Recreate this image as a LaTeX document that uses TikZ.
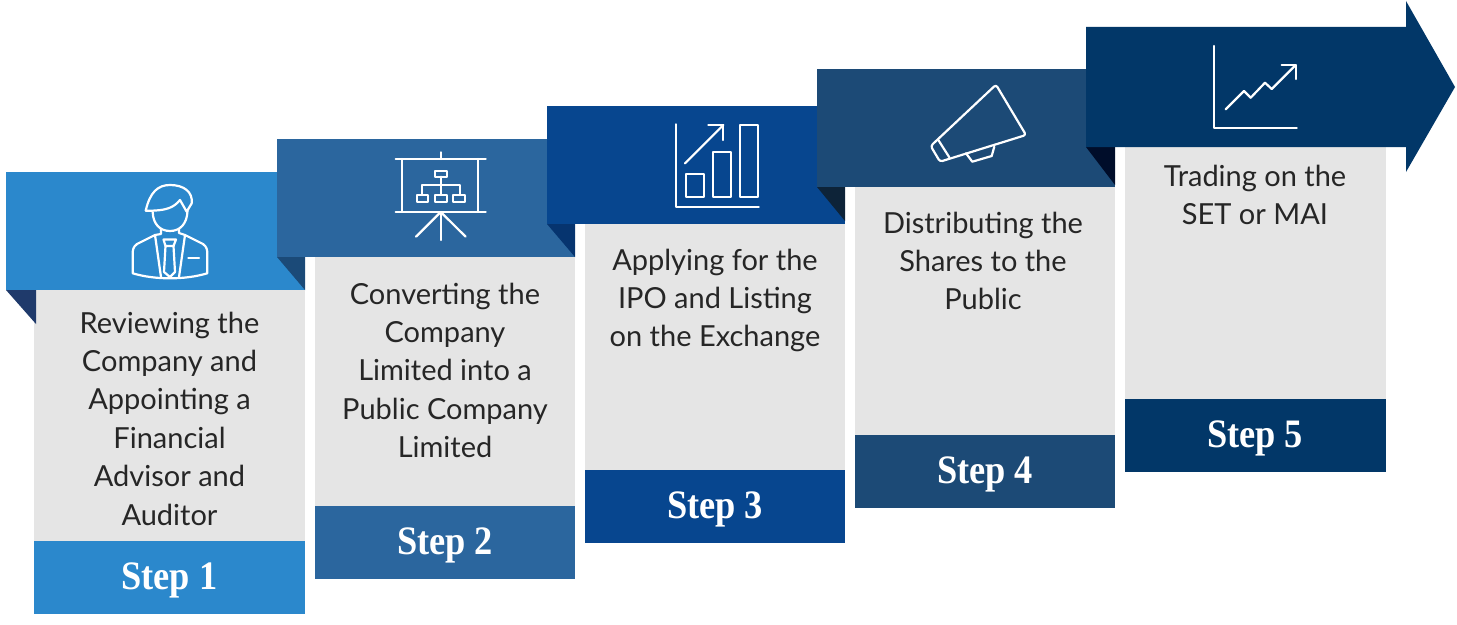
\documentclass[tikz,border=0pt]{standalone}
\usepackage{fontspec}
\usepackage{tikz}
\setmainfont{Lato}
\newfontfamily\stepfont[FakeStretch=0.9]{Liberation Serif}
\definecolor{blueA}{HTML}{2B88CC}
\definecolor{blueB}{HTML}{2B669E}
\definecolor{blueC}{HTML}{07468F}
\definecolor{blueD}{HTML}{1C4A76}
\definecolor{blueE}{HTML}{023768}
\definecolor{foldA}{HTML}{1F3A6B}
\definecolor{foldB}{HTML}{1B4A78}
\definecolor{foldC}{HTML}{06346F}
\definecolor{foldD}{HTML}{0D2338}
\definecolor{foldE}{HTML}{000D2A}
\definecolor{panelgray}{HTML}{E5E5E5}
\definecolor{bodytext}{HTML}{262626}

\begin{document}
\begin{tikzpicture}[x=0.02cm,y=-0.02cm,
	bodylabel/.style={text=bodytext,align=center,anchor=north,font=\fontsize{16.5}{21.85}\selectfont,inner sep=0pt},
	steplabel/.style={text=white,font=\fontsize{23}{26}\stepfont\bfseries,inner sep=0pt},
	icon/.style={draw=white,line width=1.25pt,line cap=round,line join=round}]
	\useasboundingbox (0,0) rectangle (1457,625);
	% panels
	\fill[panelgray] (34,290) rectangle (305,541);
	\fill[panelgray] (315,257) rectangle (575,506);
	\fill[panelgray] (585,224) rectangle (845,470);
	\fill[panelgray] (855,187) rectangle (1115,435);
	\fill[panelgray] (1125,147) rectangle (1386,399);
	% feet
	\fill[blueA] (34,541) rectangle (305,614);
	\fill[blueB] (315,506) rectangle (575,579);
	\fill[blueC] (585,470) rectangle (845,543);
	\fill[blueD] (855,435) rectangle (1115,508);
	\fill[blueE] (1125,399) rectangle (1386,472);
	% banners
	\fill[blueA] (6,172) rectangle (305,290);
	\fill[foldA] (6,290) -- (36,290) -- (36,324) -- cycle;
	\fill[foldB] (277,257) -- (305,257) -- (305,290) -- cycle;
	\fill[blueB] (277,139) rectangle (575,257);
	\fill[foldC] (547,224) -- (575,224) -- (575,257) -- cycle;
	\fill[blueC] (547,106) rectangle (845,224);
	\fill[foldD] (817,187) -- (845,187) -- (845,221) -- cycle;
	\fill[blueD] (817,69) rectangle (1115,187);
	\fill[foldE] (1086,147) -- (1115,147) -- (1115,185) -- cycle;
	\fill[blueE] (1086,27) -- (1406,27) -- (1406,1) -- (1455,87) -- (1406,172) -- (1406,147) -- (1086,147) -- cycle;
	% person
	\draw[icon] (145.7,210.7) .. controls (150,192) and (158,185) .. (170,185) .. controls (184,185) and (193,192) .. (191.7,203.3) -- (186.7,211.7) -- (180,200) .. controls (174,207) and (168,211) .. (145.7,210.7);
	\draw[icon] (152.7,212) .. controls (153,224) and (160,231) .. (170,231) .. controls (180,231) and (187,224) .. (187.5,211);
	\draw[icon] (161,229) -- (161,234) -- (155,235) -- (137,244) .. controls (133,247) and (132.7,250) .. (132.7,254) -- (132.7,273.3) .. controls (155,280) and (185,280) .. (207.3,273.3) -- (207.3,254) .. controls (207.3,250) and (207,247) .. (203,244) -- (185,235) -- (179,233) -- (179,229);
	\draw[icon] (155,235) -- (161,277);
	\draw[icon] (185,235) -- (179,277);
	\draw[icon] (163.5,239.5) -- (176,239.5) -- (173.5,246) -- (165.5,246) -- cycle;
	\draw[icon] (165.5,246) -- (164,272) -- (170,277) -- (175,272) -- (173.5,246);
	\draw[icon] (188.3,257.7) -- (199,257.7);
	% presentation board
	\draw[icon] (395.7,159) -- (485.7,159);
	\draw[icon] (395.7,211.7) -- (485.7,211.7);
	\draw[icon] (440.7,152.3) -- (440.7,159);
	\draw[icon] (402.3,159) -- (402.3,211.7);
	\draw[icon] (478.3,159) -- (478.3,211.7);
	\draw[icon] (440.7,212) -- (440.7,240);
	\draw[icon] (440.7,212) -- (416,236.7);
	\draw[icon] (440.7,212) -- (465.7,236.7);
	\draw[icon] (435,170.7) rectangle (446.7,176.7);
	\draw[icon] (440.7,176.7) -- (440.7,195);
	\draw[icon] (422.3,195) -- (422.3,185) -- (460,185) -- (460,195);
	\draw[icon] (416.7,195) rectangle (428.3,201.7);
	\draw[icon] (435,195) rectangle (446.7,201.7);
	\draw[icon] (453.3,195) rectangle (465.3,201.7);
	% bar chart
	\draw[icon] (676,124.3) -- (676,206.7) -- (758.7,206.7);
	\draw[icon] (685.7,174) rectangle (704,197.3);
	\draw[icon] (712.7,152.3) rectangle (731,197.3);
	\draw[icon] (739.7,125) rectangle (758,197.3);
	\draw[icon] (685,163.3) -- (723.3,125);
	\draw[icon] (708.3,125) -- (723.3,125) -- (723.3,140);
	% megaphone
	\draw[icon,rounded corners=1.5] (996,84.7) -- (1026,135) -- (940,161.7) -- (930.7,146) -- cycle;
	\draw[icon] (938.3,140) -- (949.3,157.3);
	\draw[icon] (966,153.3) -- (972.3,161.7) -- (991.7,156) -- (994.3,146.7);
	% growth line
	\draw[icon] (1214,46) -- (1214,128.3) -- (1296.7,128.3);
	\draw[icon] (1225.7,109.3) -- (1244,91) -- (1250.7,97.7) -- (1265,82.7) -- (1271.7,89) -- (1295.7,65);
	\draw[icon] (1281.7,65) -- (1295.7,65) -- (1295.7,79);
	% texts
	\node[bodylabel] (review) at (169.5,311.5) {Reviewing the\\Company and\\Appointing a\\Financial\\Advisor and\\Auditor};
	\node[bodylabel] (convert) at (445,282.5) {Converting the\\Company\\Limited into a\\Public Company\\Limited};
	\node[bodylabel] (apply) at (715,248.5) {Applying for the\\IPO and Listing\\on the Exchange};
	\node[bodylabel] (distribute) at (983,211.5) {Distributing the\\Shares to the\\Public};
	\node[bodylabel] (trade) at (1255,164.5) {Trading on the\\SET or MAI};
	\node[steplabel] (stepa) at (169.5,580.5) {Step 1};
	\node[steplabel] (stepb) at (445,545.5) {Step 2};
	\node[steplabel] (stepc) at (715,509.5) {Step 3};
	\node[steplabel] (stepd) at (985,474.5) {Step 4};
	\node[steplabel] (stepe) at (1255,438.5) {Step 5};
\end{tikzpicture}
\end{document}
